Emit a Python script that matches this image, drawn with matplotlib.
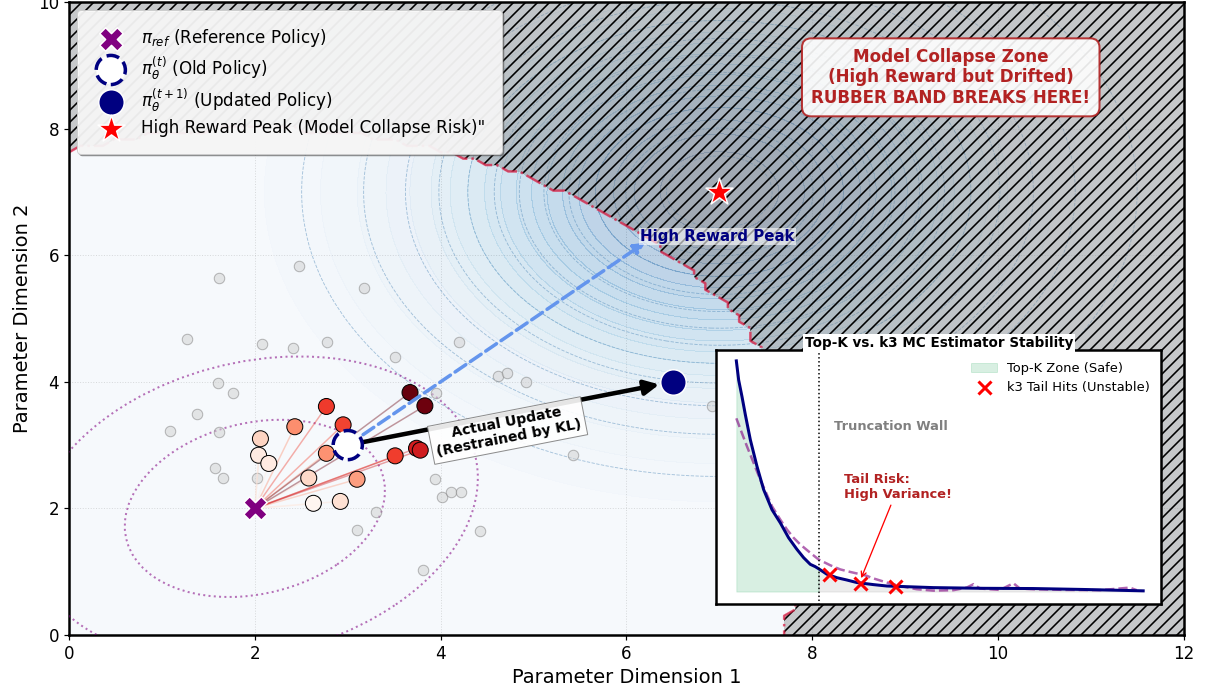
import numpy as np
import matplotlib
matplotlib.use('Agg')
import matplotlib.pyplot as plt
from matplotlib.patches import Ellipse

plt.rcParams['hatch.linewidth'] = 1.6

# ---------------- policies / landscape ----------------
ref_pt = (2.0, 2.0)
old_pt = (3.0, 3.0)
new_pt = (6.5, 4.0)
peak_pt = (7.0, 7.0)
reward_sigma = 2.0
drift_radius = 6.0          # distance from pi_ref where the band breaks
kl_radii = [1.4, 2.4]        # KL trust-region contours around pi_ref
kl_cov = [[1.0, 0.2], [0.2, 1.0]]

# sampled responses from the old policy
sample_x = [2.06, 2.04, 2.15, 2.43, 2.77, 2.95, 2.77, 2.58, 2.63, 2.92, 3.10, 3.51, 3.67, 3.83, 3.74, 3.78]
sample_y = [3.10, 2.84, 2.71, 3.29, 3.61, 3.32, 2.87, 2.48, 2.08, 2.11, 2.46, 2.83, 3.83, 3.62, 2.95, 2.92]

# background (unselected) samples
bg_x = [1.61, 2.48, 3.17, 1.27, 2.08, 2.41, 2.78, 3.51, 4.20, 4.62, 4.71, 4.92, 1.60, 1.76, 1.38, 1.09,
        1.61, 1.57, 1.66, 2.02, 3.95, 3.94, 4.01, 4.11, 4.22, 3.30, 3.10, 4.42, 3.81, 5.42, 6.92]
bg_y = [5.64, 5.83, 5.48, 4.68, 4.60, 4.53, 4.63, 4.39, 4.63, 4.09, 4.14, 4.00, 3.98, 3.82, 3.49, 3.22,
        3.21, 2.64, 2.48, 2.48, 3.82, 2.46, 2.18, 2.26, 2.26, 1.94, 1.66, 1.64, 1.03, 2.84, 3.62]

# ---------------- inset: estimator curves ----------------
rank = [0, 0.57, 1.39, 2.21, 3.44, 5.07, 6.71, 8.76, 10.8, 12.85, 14.89, 16.53, 18.17, 19.39, 20.21,
        22.26, 24.71, 27.17, 29.62, 33.72, 36.99, 48.45, 60.72, 73.0, 85.27, 100]
topk_prob = [1.0, 0.917, 0.845, 0.767, 0.658, 0.543, 0.442, 0.355, 0.298, 0.233, 0.183, 0.147, 0.118, 0.108, 0.099,
             0.075, 0.060, 0.050, 0.039, 0.030, 0.024, 0.017, 0.014, 0.013, 0.009, 0.003]
k3_rank = [0, 1.39, 2.62, 4.26, 5.89, 7.53, 8.76, 10.8, 12.44, 14.08, 15.71, 18.17, 20.21, 23.08, 25.53, 27.99,
           30.44, 32.1, 33.3, 36.99, 40.26, 44.35, 48.45, 53.4, 56.6, 58.3, 59.9, 64.8, 68.1, 69.7, 73.0,
           81.2, 89.4, 96.7, 98.4]
k3_prob = [0.751, 0.686, 0.629, 0.557, 0.485, 0.420, 0.370, 0.312, 0.269, 0.233, 0.204, 0.168, 0.139, 0.114, 0.096,
           0.085, 0.075, 0.068, 0.059, 0.039, 0.024, 0.010, 0.004, 0.006, 0.017, 0.032, 0.013, 0.007, 0.036,
           0.013, 0.010, 0.007, 0.006, 0.017, 0.006]
hit_rank = [22.67, 30.28, 39.03]
hit_prob = [0.075, 0.039, 0.022]
wall_rank = 20.21

# ================= main figure =================
fig = plt.figure(figsize=(1207 / 72, 697 / 72), dpi=72)
ax = fig.add_axes([0.0572, 0.0890, 0.9237, 0.9081])
ax.set_facecolor('#f8fafc')

gx = np.linspace(0, 12, 100)
gy = np.linspace(0, 10, 100)
X, Y = np.meshgrid(gx, gy)
R = np.exp(-((X - peak_pt[0]) ** 2 + (Y - peak_pt[1]) ** 2) / (2 * reward_sigma ** 2))
ax.contourf(X, Y, R, levels=20, cmap='Blues', alpha=0.26, zorder=1)
ax.contour(X, Y, R, levels=12, colors='steelblue', linestyles='--', linewidths=0.9, alpha=0.45, zorder=1.5)

# collapse zone: too far from the reference policy
D = np.sqrt((X - ref_pt[0]) ** 2 + (Y - ref_pt[1]) ** 2)
collapse = (D > drift_radius).astype(float)
ax.contourf(X, Y, collapse, levels=[0.5, 1.5], colors='gray', alpha=0.4, hatches=['//'], zorder=2)
ax.contour(X, Y, collapse, levels=[0.5], colors='crimson', linestyles='-.', linewidths=2.5, alpha=0.7, zorder=2.5)

# KL rings
evals, evecs = np.linalg.eigh(np.array(kl_cov))
ang = np.degrees(np.arctan2(evecs[1, 1], evecs[0, 1]))
for r in kl_radii:
    ax.add_patch(Ellipse(ref_pt, 2 * r * np.sqrt(evals[1]), 2 * r * np.sqrt(evals[0]), angle=ang,
                         fill=False, ec='purple', ls=':', lw=2, alpha=0.55, zorder=3))

ax.scatter(bg_x, bg_y, s=110, c='lightgray', edgecolors='gray', linewidths=1, alpha=0.55, zorder=3)

# samples coloured by (log) reward, with a fan back to pi_ref
sx = np.array(sample_x)
sy = np.array(sample_y)
logr = -((sx - peak_pt[0]) ** 2 + (sy - peak_pt[1]) ** 2) / (2 * reward_sigma ** 2)
norm = plt.Normalize(logr.min(), logr.max())
for x0, y0, lr in zip(sx, sy, logr):
    ax.plot([ref_pt[0], x0], [ref_pt[1], y0], color=plt.cm.Reds(norm(lr)), alpha=0.4, lw=1.5, zorder=3.5)
ax.scatter(sx, sy, s=256, c=logr, cmap='Reds', norm=norm, edgecolors='black', linewidths=1, zorder=4)

# arrows
ax.annotate('', xy=(6.2, 6.2), xytext=old_pt,
            arrowprops=dict(arrowstyle='-|>', color='cornflowerblue', lw=3.5, ls='--', mutation_scale=22,
                            shrinkA=0, shrinkB=0), zorder=5)
ax.text(6.15, 6.29, 'High Reward Peak', color='navy', fontweight='bold', fontsize=15, va='center',
        bbox=dict(facecolor='white', alpha=0.6, edgecolor='none', pad=1), zorder=6)
ax.annotate('', xy=new_pt, xytext=old_pt,
            arrowprops=dict(arrowstyle='-|>', color='black', lw=4.5, mutation_scale=30,
                            shrinkA=0, shrinkB=14), zorder=5)
ax.text(4.72, 3.23, 'Actual Update\n(Restrained by KL)', rotation=11, ha='center', va='center',
        multialignment='center', fontsize=14, fontweight='bold',
        bbox=dict(boxstyle='square,pad=0.3', fc='white', ec='gray', alpha=0.9), zorder=7)

# policies
h_ref = ax.scatter(*ref_pt, marker='X', s=550, c='purple', edgecolors='white', linewidths=1.5, zorder=8,
                   label=r'$\pi_{ref}$ (Reference Policy)')
h_old = ax.scatter(*old_pt, marker='o', s=850, facecolors='white', edgecolors='navy', linewidths=3.5,
                   linestyle='--', zorder=8, label=r'$\pi_\theta^{(t)}$ (Old Policy)')
h_new = ax.scatter(*new_pt, marker='o', s=650, c='navy', edgecolors='white', linewidths=1.5, zorder=8,
                   label=r'$\pi_\theta^{(t+1)}$ (Updated Policy)')
h_star = ax.scatter(*peak_pt, marker='*', s=800, c='red', edgecolors='white', linewidths=1.5, zorder=8,
                    label='High Reward Peak (Model Collapse Risk)"')

ax.text(9.49, 8.81, 'Model Collapse Zone\n(High Reward but Drifted)\nRUBBER BAND BREAKS HERE!',
        ha='center', va='center', fontsize=16.7, fontweight='bold', color='firebrick',
        bbox=dict(boxstyle='round,pad=0.55', fc='white', ec='firebrick', lw=2, alpha=0.9), zorder=9)

leg = ax.legend(handles=[h_ref, h_old, h_new, h_star], loc='upper left', fontsize=16.7, borderpad=1.0,
                labelspacing=0.3, shadow=True, framealpha=0.9, fancybox=True)
leg.set_zorder(10)

ax.set_xlim(0, 12)
ax.set_ylim(0, 10)
ax.set_xticks(range(0, 13, 2))
ax.set_yticks(range(0, 11, 2))
ax.grid(True, linestyle=':', color='gray', alpha=0.35, lw=1)
ax.set_axisbelow(True)
ax.tick_params(labelsize=16.7, length=5, width=1.2, pad=4.9)
for s in ax.spines.values():
    s.set_linewidth(2.5)
ax.set_xlabel('Parameter Dimension 1', fontsize=19.5, labelpad=5.5)
ax.set_ylabel('Parameter Dimension 2', fontsize=19.5, labelpad=5.5)

# ================= inset =================
axin = fig.add_axes([0.5932, 0.1341, 0.3691, 0.3637])
axin.set_facecolor('white')
rk = np.array(rank)
pk = np.array(topk_prob)
axin.fill_between(rk, pk, where=rk <= wall_rank, color='mediumseagreen', alpha=0.2, label='Top-K Zone (Safe)')
axin.fill_between(rk, pk, where=rk >= wall_rank, color='gray', alpha=0.15)
axin.plot(k3_rank, k3_prob, '--', color='purple', alpha=0.6, lw=2.5)
axin.plot(rk, pk, color='navy', lw=3)
axin.axvline(wall_rank, color='black', ls=':', lw=1.5, ymin=-0.02, ymax=1.04, clip_on=False)
axin.plot(hit_rank, hit_prob, 'x', color='red', ms=13, mew=3, ls='none', label='k3 Tail Hits (Unstable)', zorder=5)
axin.text(23.9, 0.715, 'Truncation Wall', color='gray', fontweight='bold', fontsize=13, va='center')
axin.annotate('Tail Risk:\nHigh Variance!', xy=(30.5, 0.05), xytext=(26.5, 0.452), color='firebrick',
              fontweight='bold', fontsize=13, va='center', ha='left',
              arrowprops=dict(arrowstyle='->', color='red', lw=1.3))
axin.set_xlim(-5, 104.5)
axin.set_ylim(-0.052, 1.047)
axin.set_xticks([])
axin.set_yticks([])
for s in axin.spines.values():
    s.set_linewidth(2.5)
    s.set_color('black')
axin.set_title('Top-K vs. k3 MC Estimator Stability', fontsize=13.5, fontweight='bold', pad=3,
               bbox=dict(fc='white', ec='none', pad=2))
axin.legend(loc='upper right', frameon=False, fontsize=13)

fig.savefig('out.png', dpi=72)
